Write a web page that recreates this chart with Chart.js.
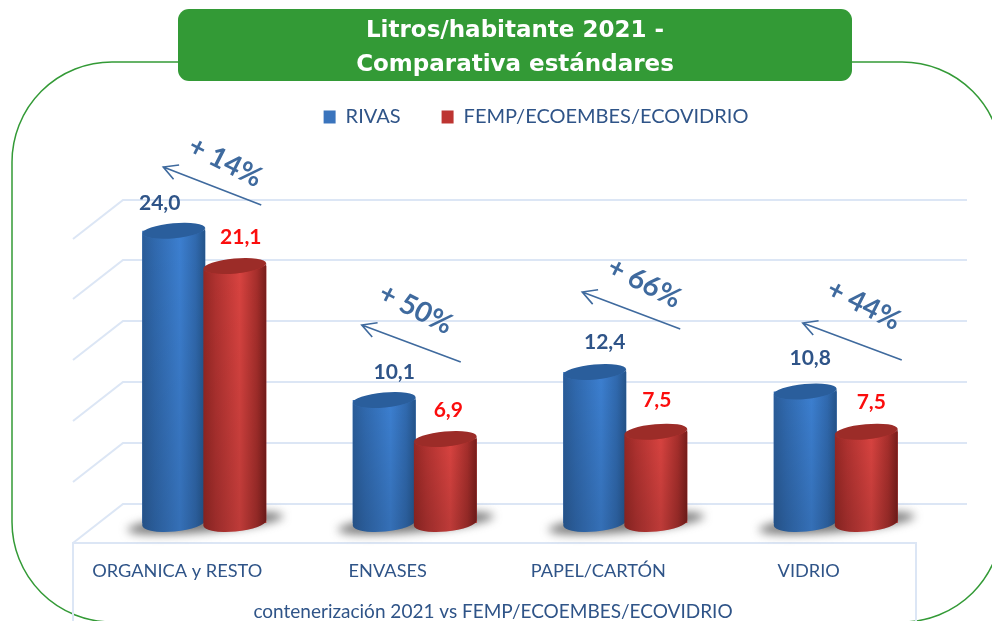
<!DOCTYPE html>
<html>
<head>
<meta charset="utf-8">
<style>html,body{margin:0;padding:0;background:#fff}canvas{display:block}</style>
<script src="https://cdn.jsdelivr.net/npm/chart.js@4"></script>
</head>
<body>
<canvas id="c" width="992" height="621"></canvas>
<script>
const categories = ['ORGANICA y RESTO', 'ENVASES', 'PAPEL/CARTÓN', 'VIDRIO'];
const rivas = [24.0, 10.1, 12.4, 10.8];
const femp = [21.1, 6.9, 7.5, 7.5];
const gridValues = [0, 5, 10, 15, 20, 25];
const increases = ['+ 14%', '+ 50%', '+ 66%', '+ 44%'];
const titleLines = ['Litros/habitante 2021 -', 'Comparativa estándares'];
const axisTitle = 'contenerización 2021 vs FEMP/ECOEMBES/ECOVIDRIO';

const GRID = '#dce6f5', NAVY = '#2f5488', ARROW = '#3f6a9e', GREEN = '#339a36';
const labelNudge = [[[-14, -27], [6, -29]], [[10, -28], [3, -29]], [[10, -30], [1, -31]], [[5, -33], [5, -29]]];
const arrowGeom = [
  { tail: [57, 318], head: [-41, 356], text: [21, 361] },
  { tail: [46, 161], head: [-53, 198], text: [1, 214] },
  { tail: [55, 194], head: [-43, 231], text: [19, 240] },
  { tail: [66, 163], head: [-33, 200], text: [28, 218] }
];

function fmt(v) { return v.toFixed(1).replace('.', ','); }

function cylinder(ctx, bar, stops, capColor) {
  const rx = bar.width / 2, ry = 7.5, rot = -0.09;
  const x = bar.x, top = bar.y, base = bar.base;
  ctx.save();
  ctx.beginPath();
  ctx.ellipse(x, top, rx, ry, rot, Math.PI, 0, true);
  ctx.ellipse(x, base, rx, ry + 1, rot, 0, Math.PI, false);
  ctx.closePath();
  const g = ctx.createLinearGradient(x - rx, 0, x + rx, 0);
  stops.forEach(s => g.addColorStop(s[0], s[1]));
  ctx.fillStyle = g;
  ctx.fill();
  const v = ctx.createLinearGradient(0, top, 0, base);
  v.addColorStop(0, 'rgba(0,0,0,0)');
  v.addColorStop(1, 'rgba(0,0,0,0.12)');
  ctx.fillStyle = v;
  ctx.fill();
  ctx.beginPath();
  ctx.ellipse(x, top, rx, ry, rot, 0, Math.PI * 2);
  ctx.fillStyle = capColor;
  ctx.fill();
  ctx.restore();
}

const scene = {
  id: 'scene',
  beforeDraw(chart) {
    const ctx = chart.ctx;
    ctx.save();
    ctx.fillStyle = '#fff';
    ctx.fillRect(0, 0, chart.width, chart.height);
    ctx.beginPath();
    ctx.roundRect(12, 62, 990, 560, 100);
    ctx.strokeStyle = GREEN;
    ctx.lineWidth = 1.5;
    ctx.stroke();
    ctx.beginPath();
    ctx.roundRect(178, 9, 674, 72, 11);
    ctx.fillStyle = GREEN;
    ctx.fill();
    ctx.restore();
  },
  beforeDatasetsDraw(chart) {
    const ctx = chart.ctx, y = chart.scales.y, x = chart.scales.x;
    ctx.save();
    ctx.strokeStyle = GRID;
    ctx.lineWidth = 2;
    gridValues.forEach(v => {
      const p = Math.round(y.getPixelForValue(v));
      ctx.beginPath();
      ctx.moveTo(73, p + 20);
      ctx.lineTo(123, p - 19);
      ctx.lineTo(967, p - 19);
      ctx.stroke();
    });
    const floor = Math.round(y.getPixelForValue(0)) + 20;
    ctx.beginPath();
    ctx.moveTo(73, 621);
    ctx.lineTo(73, floor);
    ctx.lineTo(916, floor);
    ctx.lineTo(916, 621);
    ctx.stroke();
    ctx.filter = 'blur(5px)';
    ctx.fillStyle = 'rgba(70,70,70,0.72)';
    categories.forEach((c, i) => {
      ctx.beginPath();
      ctx.ellipse(x.getPixelForValue(i) + 1, y.getPixelForValue(0), 78, 9, -0.09, 0, Math.PI * 2);
      ctx.fill();
    });
    ctx.restore();
  },
  afterDatasetsDraw(chart) {
    const ctx = chart.ctx, x = chart.scales.x, y = chart.scales.y;
    const m0 = chart.getDatasetMeta(0).data, m1 = chart.getDatasetMeta(1).data;
    const blue = [[0, '#2a5c98'], [0.2, '#3069ae'], [0.6, '#3c7fd0'], [0.85, '#3069ae'], [1, '#24548a']];
    const red = [[0, '#952724'], [0.2, '#b03230'], [0.58, '#d84340'], [0.85, '#a52e2b'], [1, '#771d1b']];
    categories.forEach((c, i) => {
      cylinder(ctx, m0[i], blue, '#2a5e9c');
      cylinder(ctx, m1[i], red, '#9c2c28');
    });
    ctx.save();
    ctx.textAlign = 'center';
    ctx.textBaseline = 'middle';
    ctx.font = 'bold 21px Lato';
    categories.forEach((c, i) => {
      ctx.fillStyle = NAVY;
      ctx.fillText(fmt(rivas[i]), m0[i].x + labelNudge[i][0][0], m0[i].y + labelNudge[i][0][1]);
      ctx.fillStyle = '#fb0d0d';
      ctx.fillText(fmt(femp[i]), m1[i].x + labelNudge[i][1][0], m1[i].y + labelNudge[i][1][1]);
    });
    const zero = y.getPixelForValue(0);
    categories.forEach((c, i) => {
      const cx = x.getPixelForValue(i), a = arrowGeom[i];
      const tx = cx + a.tail[0], ty = zero - a.tail[1], hx = cx + a.head[0], hy = zero - a.head[1];
      const ang = Math.atan2(ty - hy, tx - hx);
      ctx.strokeStyle = ARROW;
      ctx.lineWidth = 1.6;
      ctx.beginPath();
      ctx.moveTo(tx, ty);
      ctx.lineTo(hx, hy);
      ctx.moveTo(hx + 16 * Math.cos(ang - 0.5), hy + 16 * Math.sin(ang - 0.5));
      ctx.lineTo(hx, hy);
      ctx.lineTo(hx + 16 * Math.cos(ang + 0.5), hy + 16 * Math.sin(ang + 0.5));
      ctx.stroke();
      ctx.save();
      ctx.translate(cx + a.text[0], zero - a.text[1]);
      ctx.rotate(0.47);
      ctx.font = 'bold 28px Lato';
      ctx.fillStyle = ARROW;
      ctx.fillText(increases[i], 0, 0);
      ctx.restore();
    });
    ctx.font = '19px Lato';
    ctx.fillStyle = NAVY;
    ctx.fillText(axisTitle, 493, 612);
    ctx.restore();
  },
  afterLayout(chart) {
    chart.legend.left += 21;
    chart.legend.right += 21;
    chart.legend.top -= 45;
    chart.legend.bottom -= 45;
  }
};

new Chart(document.getElementById('c'), {
  type: 'bar',
  data: {
    labels: categories,
    datasets: [
      { label: 'RIVAS', data: rivas, backgroundColor: '#3a74bd', categoryPercentage: 0.58, barPercentage: 1.033 },
      { label: 'FEMP/ECOEMBES/ECOVIDRIO', data: femp, backgroundColor: '#bd3431', categoryPercentage: 0.58, barPercentage: 1.033 }
    ]
  },
  plugins: [scene],
  options: {
    responsive: false,
    animation: false,
    layout: { padding: { left: 89, right: 51, top: 0, bottom: 0 } },
    plugins: {
      title: {
        display: true,
        text: titleLines,
        color: '#fff',
        font: { family: 'DejaVu Sans', size: 23, weight: 'bold', lineHeight: 1.478 },
        padding: { top: 14, bottom: 29 }
      },
      legend: {
        display: true,
        labels: { color: NAVY, font: { family: 'Lato', size: 20 }, boxWidth: 12, boxHeight: 13, padding: 41 }
      },
      tooltip: { enabled: false }
    },
    scales: {
      x: {
        grid: { display: false },
        border: { display: false },
        ticks: { color: NAVY, font: { family: 'Lato', size: 18.2 }, padding: 29, labelOffset: -27, maxRotation: 0, autoSkip: false },
        afterFit: s => { s.height = 98; }
      },
      y: {
        min: 0,
        max: 28,
        grid: { display: false },
        border: { display: false },
        ticks: { display: false, stepSize: 5 },
        afterFit: s => { s.width = 10; }
      }
    }
  }
});
</script>
</body>
</html>
